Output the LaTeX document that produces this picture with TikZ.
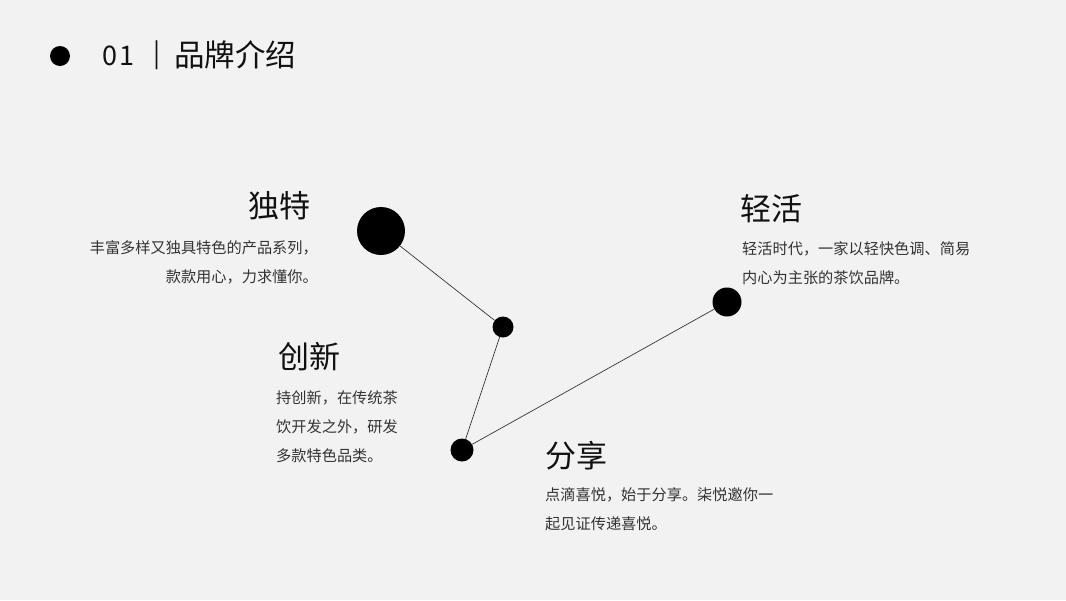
\documentclass[tikz,border=0pt]{standalone}
\usepackage{fontspec}
\newfontfamily\cjk{Noto Sans CJK SC}
\definecolor{bg}{HTML}{F2F2F2}
\definecolor{txt}{HTML}{333333}
\definecolor{ink}{HTML}{111111}
\tikzset{
  dot/.style={circle,fill=black,inner sep=0pt,minimum size=#1},
  link/.style={draw=ink!85,line width=0.7pt},
  head/.style={inner sep=0pt,text=ink,font=\cjk\fontsize{31}{36}\selectfont},
  body/.style={inner sep=0pt,text=txt,font=\cjk\fontsize{15.2}{29}\selectfont},
}
\begin{document}
\begin{tikzpicture}[x=1pt,y=-1pt]
\fill[bg] (0,0) rectangle (1066,600);
\useasboundingbox (0,0) rectangle (1066,600);
% header
\node[dot=20pt] (hd) at (60,56) {};
\node[inner sep=0pt,anchor=west,text=ink,font=\cjk\fontsize{27}{30}\selectfont] (num) at (102,56) {0\hspace{2pt}1};
\node[inner sep=0pt,anchor=center,text=ink,font=\cjk\fontsize{26}{30}\selectfont] (bar) at (157,55) {|};
\node[inner sep=0pt,anchor=west,text=ink,font=\cjk\fontsize{30.5}{34}\selectfont] (title) at (174,55) {品牌介绍};
% dots
\node[dot=48pt] (d1) at (381,231) {};
\node[dot=21pt] (d2) at (503,327) {};
\node[dot=23pt] (d3) at (462,450) {};
\node[dot=29pt] (d4) at (727,302) {};
\draw[link] (d1) -- (d2);
\draw[link] (d2) -- (d3);
\draw[link] (d3) -- (d4);
% texts
\node[head,anchor=east] (h1) at (311,206) {独特};
\node[body,anchor=north east,align=right] (b1) at (318,240) {丰富多样又独具特色的产品系列，\\款款用心，力求懂你。};
\node[head,anchor=west] (h2) at (278,357) {创新};
\node[body,anchor=north west,align=left] (b2) at (276,390) {持创新，在传统茶\\饮开发之外，研发\\多款特色品类。};
\node[head,anchor=west] (h3) at (545,456) {分享};
\node[body,anchor=north west,align=left] (b3) at (545,487) {点滴喜悦，始于分享。柒悦邀你一\\起见证传递喜悦。};
\node[head,anchor=west] (h4) at (740,209) {轻活};
\node[body,anchor=north west,align=left] (b4) at (742,241) {轻活时代，一家以轻快色调、简易\\内心为主张的茶饮品牌。};
\end{tikzpicture}
\end{document}
